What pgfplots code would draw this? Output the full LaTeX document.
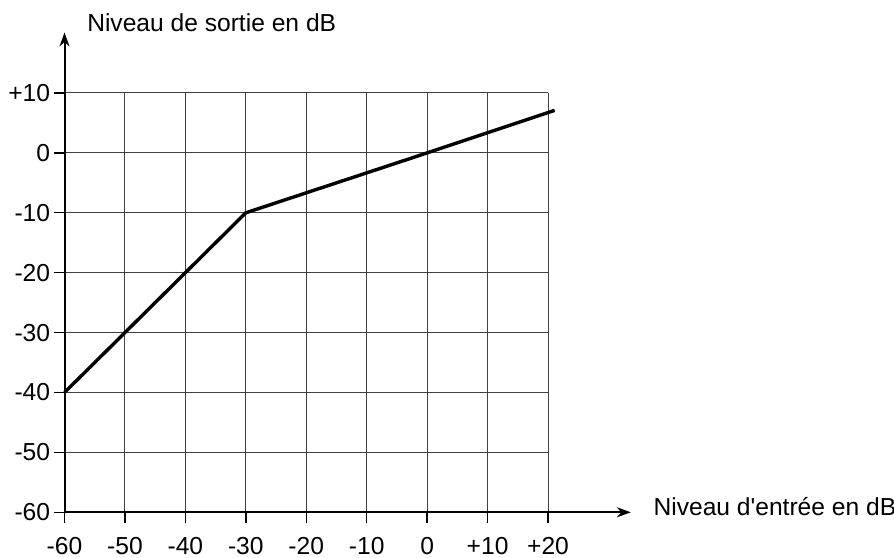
\documentclass[border=0pt]{standalone}
\usepackage{fontspec}
\setmainfont{Liberation Sans}
\usepackage{pgfplots}
\pgfplotsset{compat=1.18}
\usetikzlibrary{arrows.meta}
\begin{document}
\begin{tikzpicture}
\useasboundingbox (0,0) rectangle (447pt,278.5pt);
\begin{axis}[
  at={(32.25pt,22.35pt)}, anchor=south west,
  x=3.022pt, y=2.995pt,
  xmin=-60, xmax=20, ymin=-60, ymax=10,
  enlargelimits=false,
  clip=false,
  axis line style={draw=none},
  grid=major,
  grid style={line width=0.5pt, draw=black!75},
  xtick={-60,-50,-40,-30,-20,-10,0,10,20},
  xticklabels={-60,-50,-40,-30,-20,-10,0,+10,+20},
  ytick={-60,-50,-40,-30,-20,-10,0,10},
  yticklabels={-60,-50,-40,-30,-20,-10,0,+10},
  xtick pos=bottom, ytick pos=left,
  tick align=outside,
  major tick length=5.5pt,
  tick style={black, line width=0.7pt},
  ticklabel style={font=\fontsize{12.3}{14}\selectfont},
  xticklabel style={inner sep=0pt, yshift=-6.6pt},
  yticklabel style={inner sep=1.5pt},
]
\draw[line width=1pt, -{Stealth[length=7pt,width=5pt]}] (axis cs:-60,-60) -- (axis cs:-60,20.1);
\draw[line width=1pt, -{Stealth[length=7pt,width=5pt]}] (axis cs:-60,-60) -- (axis cs:33.7,-60);
\addplot[black, line width=1.7pt, line join=round] coordinates {(-60,-40) (-30,-10) (0,0) (21.1,7.1)};
\node[anchor=base west, inner sep=0pt, font=\fontsize{12.3}{14}\selectfont] at (axis cs:-56.3,20.2) {Niveau de sortie en dB};
\node[anchor=base west, inner sep=0pt, font=\fontsize{12.3}{14}\selectfont] at (axis cs:37.4,-60.6) {Niveau d\textquotesingle entrée en dB};
\end{axis}
\end{tikzpicture}
\end{document}
